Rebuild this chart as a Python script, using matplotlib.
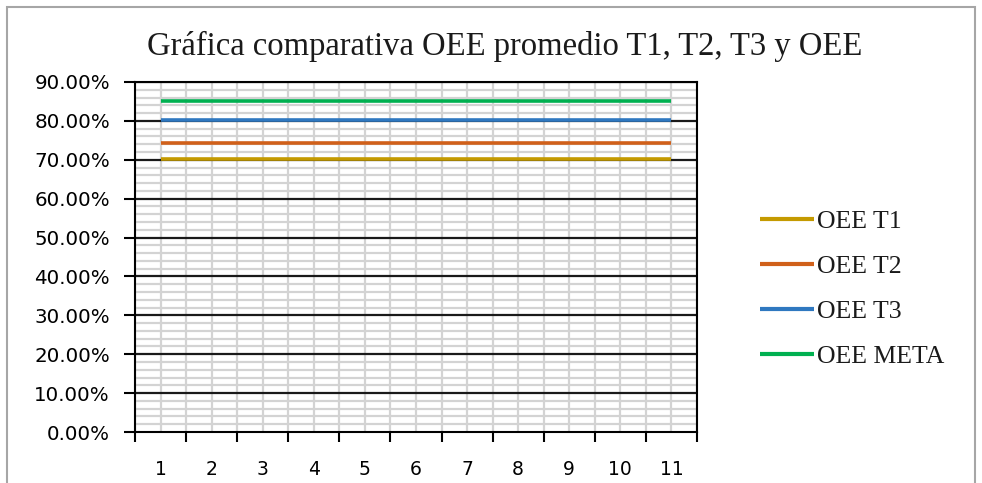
import matplotlib
matplotlib.use("Agg")
import matplotlib.pyplot as plt
import numpy as np
from matplotlib.patches import Rectangle
from matplotlib.ticker import FixedLocator, NullFormatter

categories = [1, 2, 3, 4, 5, 6, 7, 8, 9, 10, 11]
oee_t1 = [0.701] * 11
oee_t2 = [0.744] * 11
oee_t3 = [0.802] * 11
oee_meta = [0.85] * 11
series_names = ["OEE T1", "OEE T2", "OEE T3", "OEE META"]
series_colors = ["#C49A00", "#D0601A", "#2F78C0", "#00B050"]
ytick_values = [0.0, 0.1, 0.2, 0.3, 0.4, 0.5, 0.6, 0.7, 0.8, 0.9]
title = "Gráfica comparativa OEE promedio T1, T2, T3 y OEE"

W, H = 982, 483
fig = plt.figure(figsize=(W / 100, H / 100), dpi=100)
fig.patch.set_facecolor("white")

# outer chart border
fig.patches.append(Rectangle((7 / W, -0.05), (975 - 7) / W, (H - 7) / H + 0.05,
                             transform=fig.transFigure, fill=False,
                             edgecolor="#A6A6A6", linewidth=1.5))

left, right = 135 / W, 697 / W
bottom, top = 1 - 432 / H, 1 - 82 / H
ax = fig.add_axes([left, bottom, right - left, top - bottom])

x = np.array(categories)
for vals, name, col in zip([oee_t1, oee_t2, oee_t3, oee_meta], series_names, series_colors):
    ax.plot(x, vals, color=col, linewidth=2.6, label=name, zorder=5, solid_capstyle="butt")

ax.set_xlim(0.5, 11.5)
ax.set_ylim(0, 0.9)

# y axis
ax.yaxis.set_major_locator(FixedLocator(ytick_values))
ax.set_yticklabels([f"{v*100:.2f}%" for v in ytick_values])

# x axis: ticks at boundaries, labels at centers
ax.xaxis.set_major_locator(FixedLocator(np.arange(0.5, 11.6, 1.0)))
ax.xaxis.set_major_formatter(NullFormatter())
ax.xaxis.set_minor_locator(FixedLocator(x))
ax.set_xticklabels([str(c) for c in categories], minor=True)

ax.tick_params(axis="y", which="major", length=8, width=1.5, direction="out",
               labelsize=14.3, pad=10, colors="black")
ax.tick_params(axis="y", which="minor", length=0)
ax.tick_params(axis="x", which="major", length=7, width=1.5, direction="out")
ax.tick_params(axis="x", which="minor", length=0, labelsize=13.5, pad=20)

# gridlines
for v in np.arange(0.02, 0.9, 0.02):
    if abs(v * 10 - round(v * 10)) > 1e-6:
        ax.axhline(v, color="#D3D3D3", linewidth=1.6, zorder=1)
for v in np.arange(0.5, 11.6, 0.5):
    ax.axvline(v, color="#D3D3D3", linewidth=1.6, zorder=1)
for v in ytick_values[1:]:
    ax.axhline(v, color="#1A1A1A", linewidth=1.6, zorder=2)

for s in ax.spines.values():
    s.set_color("black")
    s.set_linewidth(1.5)
    s.set_zorder(3)

fig.text(505 / W, 1 - 46 / H, title, ha="center", va="center",
         fontsize=23.5, family="Liberation Serif", color="#1A1A1A")

leg = fig.legend(loc="center left", bbox_to_anchor=(760 / W, 1 - 289 / H),
                 frameon=False, prop={"family": "Liberation Serif", "size": 18.5},
                 handlelength=2.1, handletextpad=0.12, labelspacing=0.85,
                 borderpad=0, borderaxespad=0)
for t in leg.get_texts():
    t.set_color("#1A1A1A")
for l in leg.get_lines():
    l.set_linewidth(3)

fig.savefig("out.png", dpi=100)
